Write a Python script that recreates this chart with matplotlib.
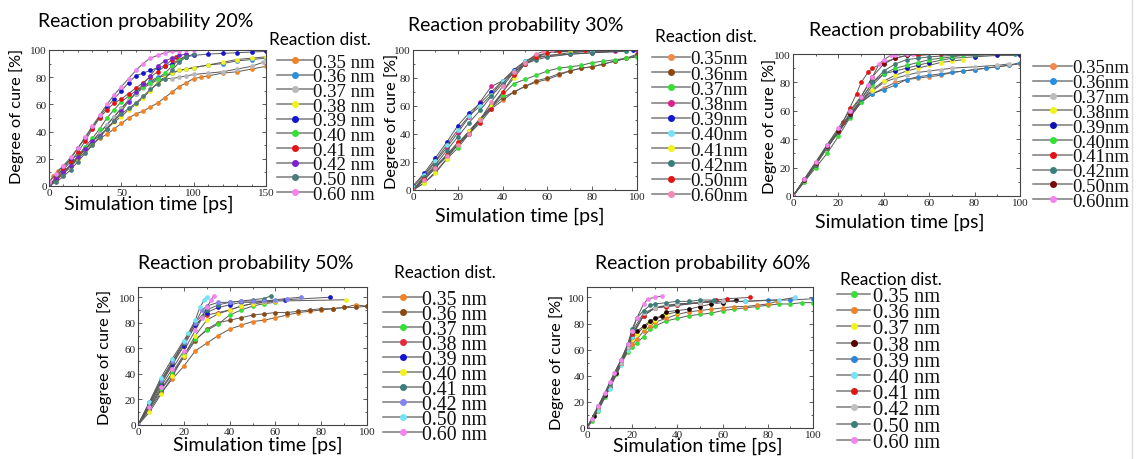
import matplotlib
matplotlib.use('Agg')
import matplotlib.pyplot as plt
from matplotlib.lines import Line2D
from matplotlib.ticker import MultipleLocator

W, H = 1137, 460

dists = ['0.35', '0.36', '0.37', '0.38', '0.39', '0.40', '0.41', '0.42', '0.50', '0.60']
labels_sp = [d + ' nm' for d in dists]
labels_ns = [d + 'nm' for d in dists]

# ---- Reaction probability 20% ----
p20_colors = ['#f28222', '#2e90dc', '#b8b8b8', '#f2f21c', '#1414d2',
              '#34e034', '#e41414', '#7a22d4', '#4c7c7a', '#f484ee']
p20_x = [
    [0, 3, 6, 10, 15, 20, 25, 30, 35, 40, 45, 50, 55, 60, 65, 70, 75, 80, 85, 90, 95, 100, 105, 110, 120, 130, 140, 150],
    [0, 5, 10, 15, 20, 25, 30, 35, 40, 45, 50, 55, 60, 65, 70, 75, 80, 85, 90, 95, 100, 110, 120, 130, 140, 150],
    [0, 5, 10, 15, 20, 25, 30, 35, 40, 45, 50, 55, 60, 65, 70, 75, 80, 85, 90, 95, 100, 110, 120, 130, 140, 148],
    [0, 5, 10, 15, 20, 25, 30, 35, 40, 45, 50, 55, 60, 65, 70, 75, 80, 85, 90, 95, 100, 110, 120, 130, 140, 150],
    [0, 5, 10, 15, 20, 25, 30, 35, 40, 45, 50, 55, 60, 65, 70, 75, 80, 85, 90, 95, 100, 110, 120, 130, 140, 150],
    [0, 5, 10, 15, 20, 25, 30, 35, 40, 45, 50, 55, 60, 65, 70, 75, 80, 85, 90, 95],
    [0, 5, 10, 15, 20, 25, 30, 35, 40, 45, 50, 55, 60, 65, 70, 75, 80, 85, 88],
    [0, 5, 10, 15, 20, 25, 30, 35, 40, 45, 50, 55, 60, 65, 70, 75, 80, 85, 90, 95],
    [0, 5, 10, 15, 20, 25, 30, 35, 40, 45, 50, 55, 60, 65, 70, 75, 80, 85, 90, 95, 100],
    [0, 5, 10, 15, 20, 25, 30, 35, 40, 45, 50, 55, 60, 65, 70, 75, 80, 85, 90, 95, 100],
]
p20_y = [
    [2, 7, 11, 15, 19, 23, 27, 31, 35, 38, 42, 46, 50, 53, 55, 58, 61, 65, 69, 73, 76, 79, 80, 81, 83, 84, 86, 88],
    [0, 5, 10, 15, 21, 27, 33, 39, 45, 51, 57, 63, 68, 73, 77, 80, 81, 83, 85, 86, 87, 89, 90, 92, 93, 94],
    [0, 5, 10, 15, 21, 27, 33, 39, 45, 51, 57, 63, 68, 72, 75, 78, 79, 79, 80, 81, 82, 83, 84, 86, 88, 91],
    [0, 4, 9, 14, 20, 25, 30, 36, 42, 47, 51, 56, 60, 65, 70, 76, 80, 83, 85, 86, 87, 89, 91, 93, 94, 95],
    [0, 7, 13, 20, 28, 35, 43, 51, 58, 64, 70, 76, 81, 83, 85, 87, 88, 90, 93, 95, 96, 97, 97.5, 98, 98.5, 99],
    [0, 5, 10, 16, 22, 29, 35, 42, 50, 56, 62, 66, 70, 73, 76, 79, 83, 88, 93, 96],
    [0, 6, 12, 18, 25, 33, 42, 50, 56, 61, 64, 68, 72, 76, 80, 84, 88, 93, 95],
    [0, 5, 10, 15, 21, 27, 33, 37, 42, 48, 55, 62, 69, 75, 81, 88, 92, 94, 96, 97],
    [0, 3, 7, 12, 18, 24, 30, 36, 42, 48, 53, 57, 61, 66, 71, 75, 79, 85, 91, 95, 97],
    [3, 9, 15, 21, 28, 36, 44, 52, 60, 67, 73, 79, 85, 90, 94, 96, 98, 99, 99.5, 100, 100],
]

# ---- Reaction probability 30% ----
p30_colors = ['#f28a4a', '#8a4a12', '#34e034', '#e0208a', '#1414d2',
              '#74e4f4', '#f2f21c', '#3a807a', '#e41414', '#f488b4']
p30_x = [
    [0, 5, 10, 15, 20, 25, 30, 35, 40, 45, 50, 55, 60, 65, 70, 75, 80, 85, 90, 95, 100],
    [0, 5, 10, 15, 20, 25, 30, 35, 40, 45, 50, 55, 60, 65, 70, 75, 80, 85, 90, 95, 100],
    [0, 5, 10, 15, 20, 25, 30, 35, 40, 45, 50, 55, 60, 65, 70, 75, 80, 85, 90, 95, 100],
    [0, 5, 10, 15, 20, 25, 30, 35, 40, 45, 50, 55, 60, 70, 80, 90, 100],
    [0, 5, 10, 15, 20, 25, 30, 35, 40, 45, 50, 55, 60, 70, 80, 90, 98],
    [0, 5, 10, 15, 20, 25, 30, 35, 40, 45, 50, 55, 60, 70, 80, 95],
    [0, 5, 10, 15, 20, 25, 30, 35, 40, 45, 50, 55, 60, 65, 70],
    [0, 5, 10, 15, 20, 25, 30, 35, 40, 45, 50, 55, 60, 70, 80, 95],
    [0, 5, 10, 15, 20, 25, 30, 35, 40, 45, 50, 55, 60, 65, 77],
    [0, 5, 10, 15, 20, 25, 30, 35, 40, 45, 50, 55, 58, 62],
]
p30_y = [
    [0, 8, 16, 24, 32, 41, 50, 58, 64, 70, 74, 77, 79, 82, 85, 87, 88, 90, 92, 94, 96],
    [0, 8, 17, 25, 33, 42, 51, 59, 66, 70, 74, 78, 80, 83, 85, 87, 88, 90, 92, 94, 97],
    [0, 5, 13, 22, 30, 40, 50, 60, 68, 76, 79, 82, 85, 87, 88, 89, 91, 92, 93, 94, 95],
    [0, 10, 20, 30, 41, 52, 63, 74, 78, 84, 90, 94, 96, 97, 98, 99, 100],
    [3, 12, 23, 34, 46, 55, 62, 70, 78, 86, 92, 96, 98, 99, 99, 100, 100],
    [2, 11, 21, 32, 43, 53, 60, 68, 78, 85, 92, 95, 96, 98, 99, 99],
    [0, 5, 12, 22, 33, 42, 51, 60, 70, 80, 90, 95, 98, 99, 99],
    [0, 9, 18, 28, 38, 48, 57, 67, 76, 84, 90, 93, 95, 97, 98, 99],
    [0, 8, 16, 25, 34, 40, 48, 58, 70, 82, 90, 95, 98, 99, 100],
    [0, 7, 16, 24, 32, 40, 50, 63, 74, 84, 91, 97, 99, 100],
]

# ---- Reaction probability 40% ----
p40_colors = ['#f28a4a', '#2490e4', '#bcbcbc', '#f2f21c', '#1010b0',
              '#34e034', '#e41414', '#3a807a', '#7a0a0a', '#f484ee']
p40_x = [
    [0, 5, 10, 15, 20, 25, 30, 35, 40, 45, 50, 55, 60, 65, 70, 75, 80, 85, 90, 95, 100],
    [0, 5, 10, 15, 20, 25, 30, 35, 40, 45, 50, 55, 60, 65, 70, 75, 80, 85, 90, 95, 100],
    [0, 5, 10, 15, 20, 25, 30, 35, 40, 45, 50, 55, 60, 65, 70, 80, 90, 95],
    [0, 5, 10, 15, 20, 25, 30, 35, 40, 45, 50, 55, 60, 65, 70, 75],
    [0, 5, 10, 15, 20, 25, 30, 35, 40, 45, 50, 55, 60, 70, 80, 90, 100],
    [0, 5, 10, 15, 20, 25, 30, 35, 40, 45, 50, 55, 60, 65, 70, 75],
    [0, 5, 10, 15, 20, 22, 25, 28, 30, 33, 35, 40, 45, 50, 55, 65],
    [0, 5, 10, 15, 20, 25, 30, 35, 40, 45, 50, 55, 60, 70, 80, 98],
    [0, 5, 10, 15, 20, 25, 30, 35, 40, 45, 50],
    [0, 5, 10, 15, 20, 25, 30, 33, 35, 38, 40, 43, 45, 50, 53],
]
p40_y = [
    [0, 11, 23, 35, 46, 57, 66, 72, 76, 80, 82, 83, 84, 85, 87, 88, 89, 90, 91, 92, 93],
    [0, 11, 23, 36, 46, 57, 66, 72, 75, 78, 82, 84, 85, 86, 87, 88, 89, 90, 91, 92, 94],
    [0, 10, 22, 34, 45, 56, 66, 74, 80, 83, 85, 87, 88, 89, 90, 91, 92, 93],
    [0, 11, 22, 34, 45, 56, 67, 75, 81, 85, 88, 90, 92, 94, 95, 96],
    [0, 12, 23, 35, 46, 57, 68, 80, 86, 88, 90, 92, 94, 97, 98, 99, 99],
    [0, 10, 20, 30, 42, 55, 66, 78, 86, 90, 92, 94, 96, 97, 98, 99],
    [0, 11, 22, 34, 45, 52, 62, 72, 80, 87, 90, 94, 97, 99, 99, 100],
    [0, 11, 22, 34, 45, 56, 68, 80, 88, 93, 96, 97, 98, 99, 99, 100],
    [0, 11, 23, 35, 46, 58, 70, 84, 93, 97, 99],
    [0, 12, 24, 36, 48, 60, 70, 78, 84, 93, 96, 99, 99, 100, 100],
]

# ---- Reaction probability 50% ----
p50_colors = ['#f28222', '#8a4a12', '#34e034', '#e42a3a', '#1414d2',
              '#f2f21c', '#3a807a', '#8484f0', '#74e4f4', '#f484ee']
p50_x = [
    [0, 5, 10, 15, 20, 25, 30, 35, 40, 45, 50, 55, 60, 65, 70, 75, 80, 85, 90, 95, 100],
    [0, 5, 10, 15, 20, 25, 30, 35, 40, 45, 50, 55, 60, 65, 70, 75, 80, 85, 90, 95, 100],
    [0, 5, 10, 15, 20, 25, 30, 35, 40, 45, 50, 55, 60],
    [0, 5, 10, 15, 20, 25, 30, 35, 40, 45, 50, 55, 60],
    [0, 5, 10, 15, 20, 25, 30, 35, 40, 45, 50, 55, 64, 84],
    [0, 5, 10, 15, 20, 25, 30, 35, 40, 45, 50, 55, 60, 91],
    [0, 5, 10, 15, 20, 25, 30, 35, 40, 45, 50, 55, 58],
    [0, 5, 10, 15, 20, 25, 28, 30, 35, 40, 45, 50, 55, 60, 65, 71],
    [0, 5, 10, 15, 20, 22, 25, 27, 29, 30],
    [0, 5, 10, 15, 20, 25, 28, 30, 32, 33],
]
p50_y = [
    [0, 12, 25, 36, 46, 58, 64, 70, 75, 78, 81, 82, 84, 86, 88, 89, 90, 91, 92, 94, 93],
    [0, 13, 27, 40, 53, 66, 75, 80, 82, 84, 86, 87, 88, 88, 89, 90, 91, 91, 92, 92, 93],
    [0, 14, 28, 41, 55, 67, 74, 79, 86, 90, 93, 95, 96],
    [0, 16, 33, 48, 62, 78, 86, 88, 90, 93, 95, 96, 97],
    [0, 15, 32, 47, 62, 78, 88, 92, 94, 96, 96, 97, 98, 100],
    [0, 10, 24, 38, 54, 70, 82, 87, 90, 93, 95, 96, 97, 98],
    [0, 17, 34, 49, 64, 80, 90, 94, 96, 97, 98, 99, 101],
    [0, 18, 35, 50, 65, 80, 90, 93, 96, 96, 97, 97, 97, 98, 99, 100],
    [0, 18, 37, 52, 66, 72, 82, 92, 98, 100],
    [0, 14, 30, 44, 58, 74, 84, 92, 98, 101],
]

# ---- Reaction probability 60% ----
p60_colors = ['#34e034', '#f28222', '#f2f21c', '#1a0000', '#2a84e0',
              '#74e4f4', '#e41414', '#c0c0c0', '#3a807a', '#f484ee']
p60_legend_colors = ['#34e034', '#f28222', '#f2f21c', '#5a0000', '#2a84e0',
                     '#74e4f4', '#e41414', '#c0c0c0', '#3a807a', '#f484ee']
p60_x = [
    [0, 2, 5, 8, 10, 13, 15, 18, 20, 22, 25, 28, 30, 35, 40, 45, 50, 55, 60, 65, 70, 75, 80, 85, 90, 95, 100],
    [0, 5, 10, 15, 18, 20, 22, 25, 28, 30, 35, 40, 45, 50, 55, 60, 65, 70, 75, 80, 84],
    [0, 5, 10, 15, 18, 20, 22, 25, 28, 30, 35, 40],
    [0, 3, 5, 8, 10, 13, 15, 18, 20, 22, 25, 28, 30, 33, 35, 40, 45, 50, 55, 60, 66],
    [0, 5, 10, 15, 18, 20, 25, 30, 40, 50, 60, 70, 80, 90, 100],
    [0, 5, 10, 15, 18, 20, 25, 30, 40, 50, 56, 70, 85, 92],
    [0, 5, 10, 15, 18, 20, 25, 30, 35, 40, 50, 57, 62, 72],
    [0, 5, 10, 15, 18, 20, 25, 30, 35, 40, 50, 60],
    [0, 5, 10, 15, 18, 20, 22, 25, 28, 30, 35, 40, 45, 50, 56],
    [0, 2, 5, 8, 10, 12, 15, 18, 20, 22, 25, 27, 30, 33],
]
p60_y = [
    [0, 5, 13, 24, 31, 41, 49, 58, 62, 65, 70, 76, 78, 82, 84, 86, 87, 88, 90, 91, 92, 93, 94, 95, 95, 96, 96],
    [0, 15, 32, 50, 60, 64, 68, 74, 78, 81, 84, 87, 89, 90, 91, 92, 93, 93, 94, 95, 97],
    [0, 15, 32, 50, 60, 68, 72, 77, 81, 83, 87, 89],
    [0, 9, 15, 25, 32, 42, 50, 62, 70, 74, 78, 82, 84, 86, 89, 90, 91, 93, 95, 96, 98],
    [0, 16, 32, 50, 62, 72, 86, 92, 95, 96, 97, 97, 98, 98, 99],
    [0, 14, 30, 48, 60, 70, 86, 92, 94, 96, 97, 97, 98, 100],
    [0, 16, 33, 50, 62, 72, 86, 92, 93, 94, 96, 98, 99, 100],
    [0, 16, 33, 50, 62, 74, 88, 92, 94, 95, 96, 97],
    [0, 17, 34, 52, 64, 76, 84, 90, 94, 95, 96, 97, 97, 98, 98],
    [0, 7, 17, 27, 35, 42, 52, 64, 74, 84, 95, 99, 100, 101],
]

SANS = 'Lato'
SERIF = 'Liberation Serif'

fig = plt.figure(figsize=(W / 100, H / 100), dpi=100)


def fx(x):
    return x / W


def fy(y):
    return 1 - y / H


def panel(box, xs, ys, colors, xlim, ylim, xmaj, xmin):
    l, t, r, b = box
    ax = fig.add_axes([fx(l), fy(b), (r - l) / W, (b - t) / H])
    for x, y, c in zip(xs, ys, colors):
        ax.plot(x, y, color='#5a5a5a', lw=0.7, marker='o', ms=3.4,
                mfc=c, mec=c, mew=0)
    ax.set_xlim(*xlim)
    ax.set_ylim(*ylim)
    ax.xaxis.set_major_locator(MultipleLocator(xmaj))
    ax.xaxis.set_minor_locator(MultipleLocator(xmin))
    ax.yaxis.set_minor_locator(MultipleLocator(10))
    ax.set_yticks([0, 20, 40, 60, 80, 100])
    ax.tick_params(which='both', direction='in', top=True, right=True,
                   width=0.6, color='#444444')
    ax.tick_params(which='major', length=3, labelsize=8, pad=1.5,
                   labelfontfamily=SERIF, labelcolor='#222222')
    ax.tick_params(which='minor', length=1.6)
    for s in ax.spines.values():
        s.set_linewidth(0.8)
        s.set_color('#444444')
    return ax


def legend(x0, x1, xt, y0, dy, colors, labels, fs):
    for i, (c, lab) in enumerate(zip(colors, labels)):
        y = y0 + i * dy
        fig.add_artist(Line2D([fx(x0), fx(x1)], [fy(y), fy(y)], color='#7a7a7a', lw=1.1))
        fig.add_artist(Line2D([fx((x0 + x1) / 2)], [fy(y)], marker='o', ms=4,
                              color=c, lw=0))
        fig.text(fx(xt), fy(y), lab, fontsize=fs, family=SERIF,
                 ha='left', va='center_baseline', color='#111111')


def labels(title, tpos, xl_pos, yl_pos, lt_pos=None):
    fig.text(fx(tpos[0]), fy(tpos[1]), title, fontsize=14, family=SANS,
             ha='center', va='center')
    # x label hangs from its top edge so it clears the tick labels
    fig.text(fx(xl_pos[0]), fy(xl_pos[1]), 'Simulation time [ps]', fontsize=14,
             family=SANS, ha='center', va='top')
    fig.text(fx(yl_pos[0]), fy(yl_pos[1]), 'Degree of cure [%]', fontsize=11.8,
             family=SANS, ha='center', va='center', rotation=90)
    if lt_pos is not None:
        fig.text(fx(lt_pos[0]), fy(lt_pos[1]), 'Reaction dist.', fontsize=12.3,
                 family=SANS, ha='center', va='center')


# panel 20%
panel((49, 51, 266, 187), p20_x, p20_y, p20_colors, (0, 150), (0, 100), 50, 10)
labels('Reaction probability 20%', (146, 21), (149, 196), (17, 116), (320, 40))
legend(277, 313, 313, 61, 14.67, p20_colors, labels_sp, 13.5)

# panel 30%
panel((413, 51, 637, 191), p30_x, p30_y, p30_colors, (0, 100), (0, 100), 20, 10)
labels('Reaction probability 30%', (516, 26), (520, 208), (392, 121), (706, 37))
legend(652, 690, 690, 58, 15.2, p30_colors, labels_ns, 13.7)

# panel 40%
panel((793, 55, 1020, 197), p40_x, p40_y, p40_colors, (0, 100), (0, 100), 20, 10)
labels('Reaction probability 40%', (917, 31), (900, 214), (770, 126))
legend(1033, 1072, 1072, 67, 14.8, p40_colors, labels_ns, 13.5)

# panel 50%
panel((138, 288, 367, 426), p50_x, p50_y, p50_colors, (0, 100), (0, 108), 20, 10)
labels('Reaction probability 50%', (246, 263), (258, 437), (105, 357), (445, 273))
legend(383, 422, 422, 298, 15.0, p50_colors, labels_sp, 14.3)

# panel 60%
panel((587, 288, 813, 429), p60_x, p60_y, p60_colors, (0, 100), (0, 108), 20, 10)
labels('Reaction probability 60%', (703, 263), (698, 438), (557, 362), (891, 280))
legend(837, 870, 873, 295, 16.2, p60_legend_colors, labels_sp, 14.8)

# thin border at the right edge of the screenshot
fig.add_artist(Line2D([fx(1132), fx(1132)], [0, 1], color='#dcdcdc', lw=1))

fig.savefig('out.png', dpi=100)
